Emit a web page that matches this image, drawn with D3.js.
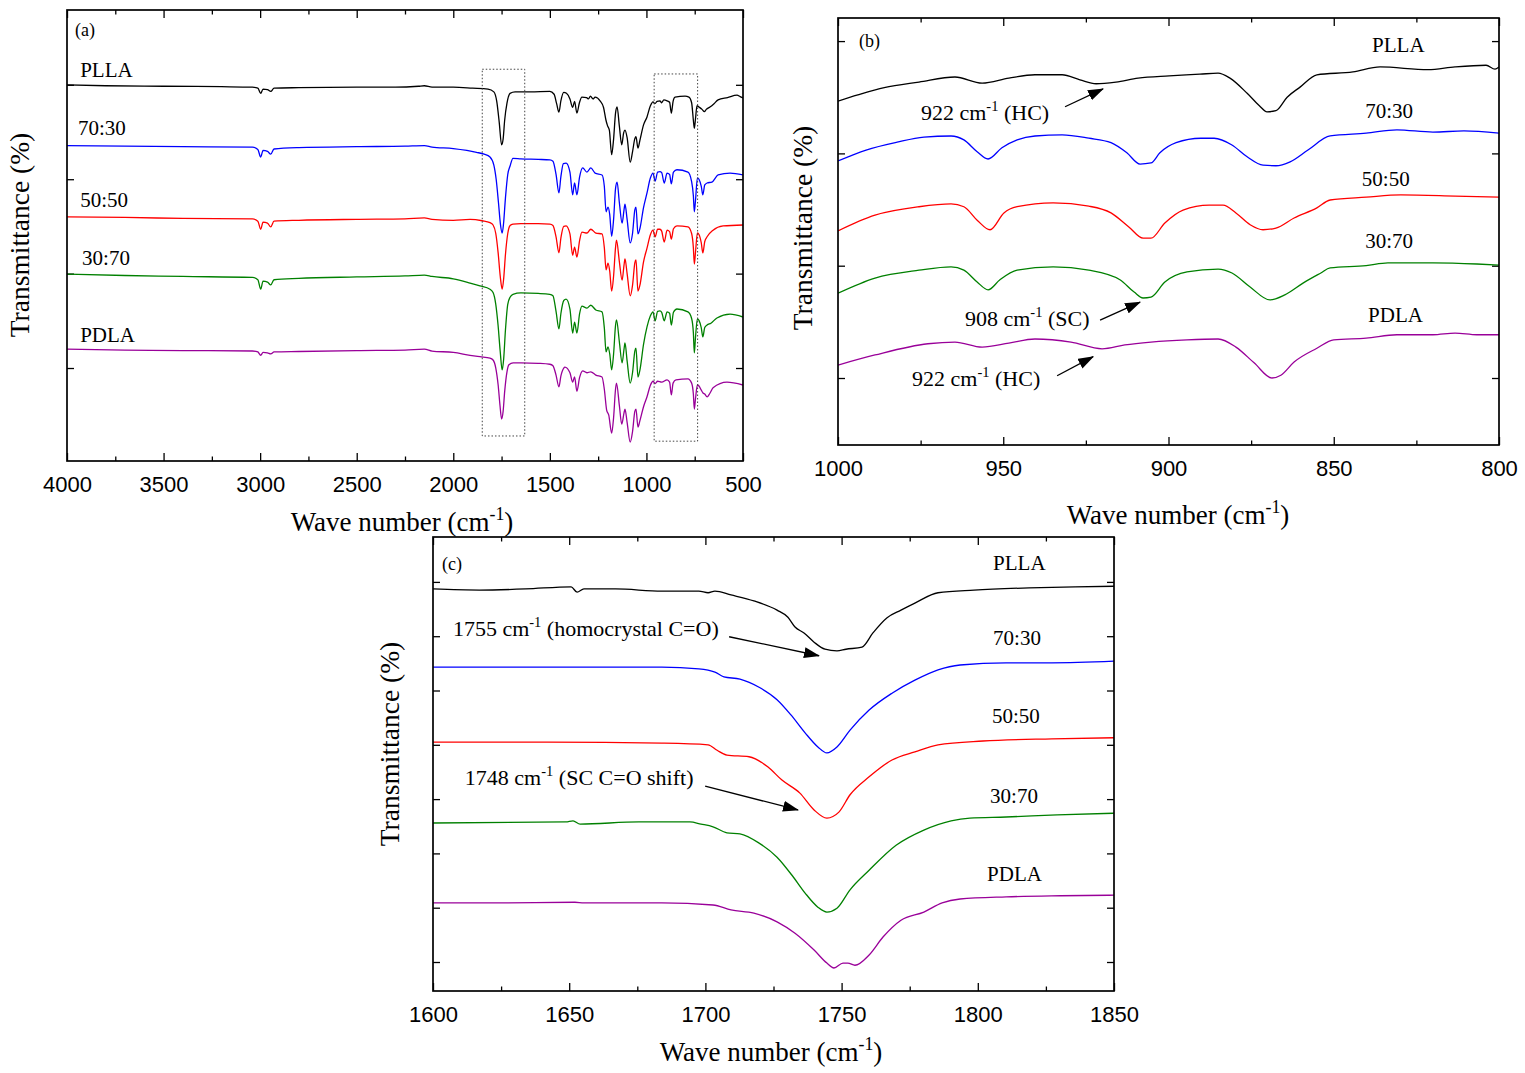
<!DOCTYPE html>
<html lang="en">
<head>
<meta charset="UTF-8">
<title>FTIR spectra</title>
<style>
  body { margin: 0; background: #fff; }
  svg { display: block; }
</style>
</head>
<body>
<svg id="chart"></svg>
<script src="https://d3js.org/d3.v7.min.js"></script>
<script>
// sample names, same order in all three panels
const names = ["PLLA", "70:30", "50:50", "30:70", "PDLA"];

// (a) full spectra, [wave number, transmittance]
const a_PLLA = [[4000,80.0],[3800,79.8],[3500,79.7],[3200,79.6],[3040,79.5],[3012,79.3],[2997,78.2],[2985,79.1],[2962,79.0],[2945,78.6],[2928,79.3],[2800,79.4],[2500,79.5],[2300,79.5],[2180,79.7],[2150,79.8],[2110,79.5],[2000,79.5],[1900,79.3],[1820,79.1],[1790,78.5],[1775,76.5],[1762,72.0],[1750,67.3],[1742,68.5],[1734,72.5],[1722,76.1],[1706,78.2],[1680,78.5],[1600,78.5],[1500,78.6],[1478,78.0],[1465,76.0],[1453,74.2],[1443,76.6],[1428,78.4],[1414,78.2],[1396,77.0],[1382,75.2],[1372,76.5],[1360,74.0],[1347,76.2],[1334,77.4],[1310,77.3],[1300,77.0],[1290,77.6],[1276,77.0],[1266,77.4],[1240,76.6],[1222,75.2],[1210,72.6],[1202,71.4],[1192,70.4],[1180,65.2],[1170,68.5],[1160,74.0],[1152,75.3],[1140,71.2],[1128,67.3],[1118,69.8],[1111,70.4],[1100,68.8],[1084,63.6],[1072,65.8],[1060,68.6],[1054,69.0],[1044,66.6],[1034,68.2],[1015,71.5],[997,73.2],[980,75.5],[966,76.4],[956,76.0],[945,76.5],[930,76.6],[921,76.2],[910,76.8],[893,76.6],[880,76.3],[871,74.0],[862,76.5],[852,77.4],[800,77.6],[780,77.4],[766,76.2],[757,72.5],[752,70.8],[746,72.8],[738,75.6],[728,75.3],[712,74.8],[700,74.3],[690,74.8],[671,75.3],[650,76.0],[629,76.8],[580,77.3],[531,77.8],[515,77.5],[500,77.2]];
const a_7030 = [[4000,67.1],[3700,67.0],[3400,66.9],[3040,66.8],[3012,66.3],[2997,64.7],[2985,66.1],[2962,65.9],[2945,65.3],[2928,66.4],[2800,66.7],[2500,66.9],[2250,67.0],[2150,67.1],[2110,66.8],[2000,66.5],[1930,66.1],[1880,65.7],[1840,65.3],[1810,64.7],[1790,63.0],[1778,60.0],[1766,55.0],[1756,50.5],[1747,48.6],[1740,50.5],[1730,56.0],[1718,61.0],[1706,62.8],[1691,64.4],[1650,64.3],[1560,64.2],[1500,64.1],[1484,63.8],[1468,61.0],[1453,57.1],[1443,60.5],[1430,63.3],[1416,63.4],[1396,61.5],[1382,56.7],[1372,59.2],[1360,56.7],[1346,60.5],[1330,62.4],[1308,61.5],[1288,62.4],[1266,61.3],[1230,60.9],[1218,58.5],[1209,53.1],[1199,54.1],[1190,52.5],[1180,47.9],[1170,51.5],[1160,58.0],[1152,59.4],[1140,55.0],[1126,50.7],[1116,53.5],[1111,54.7],[1100,51.5],[1084,46.5],[1072,48.5],[1060,53.5],[1054,54.1],[1044,48.4],[1034,49.5],[1015,54.0],[997,57.1],[980,60.2],[966,61.3],[955,59.6],[942,61.5],[930,61.6],[921,61.4],[908,59.2],[893,61.3],[880,61.0],[871,59.0],[860,61.5],[842,62.0],[785,61.5],[766,59.5],[757,56.5],[752,53.1],[746,55.5],[736,60.3],[728,60.0],[716,58.5],[708,56.7],[698,58.8],[686,59.2],[661,59.4],[629,60.9],[567,61.3],[500,60.9]];
const a_5050 = [[4000,52.0],[3700,51.9],[3400,51.7],[3040,51.6],[3012,51.1],[2997,49.4],[2985,50.9],[2962,50.7],[2945,49.9],[2928,51.1],[2800,51.3],[2500,51.5],[2250,51.6],[2150,51.8],[2110,51.5],[2000,51.3],[1913,51.5],[1850,51.2],[1810,50.8],[1794,50.3],[1780,48.5],[1768,44.5],[1757,39.5],[1747,36.7],[1739,39.0],[1730,44.0],[1718,48.5],[1706,50.2],[1691,50.5],[1650,50.6],[1560,50.6],[1500,50.5],[1484,50.2],[1468,47.8],[1453,44.4],[1443,47.5],[1428,50.0],[1416,50.1],[1396,48.4],[1382,43.9],[1372,45.6],[1360,43.5],[1346,47.0],[1334,48.8],[1308,48.6],[1288,49.4],[1262,48.6],[1230,48.4],[1218,45.5],[1209,40.8],[1199,42.2],[1190,40.5],[1180,36.3],[1170,39.5],[1160,45.5],[1155,47.1],[1140,42.5],[1126,38.6],[1116,41.8],[1111,43.1],[1100,40.0],[1084,35.3],[1072,37.5],[1060,42.3],[1054,42.9],[1044,36.3],[1034,37.5],[1015,42.5],[997,45.4],[980,48.2],[966,49.2],[955,47.8],[942,49.4],[930,49.4],[921,49.0],[908,46.7],[893,49.2],[880,48.9],[871,47.3],[860,49.5],[842,50.1],[785,49.9],[766,48.5],[757,45.5],[752,42.0],[746,44.5],[736,48.6],[728,48.3],[716,46.5],[708,44.4],[698,46.8],[686,47.8],[655,49.2],[603,50.1],[500,50.3]];
const a_3070 = [[4000,39.9],[3700,39.6],[3400,39.4],[3040,39.2],[3012,38.7],[2997,36.7],[2985,38.4],[2962,38.2],[2945,37.6],[2928,38.7],[2800,39.0],[2500,39.3],[2250,39.5],[2150,39.7],[2110,39.4],[2000,38.9],[1913,38.0],[1862,37.4],[1810,36.7],[1794,36.0],[1780,33.5],[1768,29.0],[1757,23.5],[1747,19.6],[1739,22.0],[1730,28.0],[1718,33.5],[1706,35.0],[1691,35.6],[1650,35.9],[1560,35.8],[1500,35.6],[1484,35.3],[1468,32.0],[1453,28.3],[1443,31.5],[1428,34.3],[1416,34.6],[1396,32.5],[1382,27.4],[1372,29.7],[1360,27.4],[1346,31.5],[1334,33.1],[1308,32.7],[1288,33.3],[1262,32.3],[1230,31.9],[1218,28.5],[1209,23.4],[1199,24.5],[1190,23.0],[1180,19.6],[1170,23.0],[1160,29.0],[1155,30.2],[1140,25.5],[1126,21.1],[1116,24.0],[1111,25.3],[1100,21.5],[1084,16.8],[1072,19.0],[1060,23.6],[1054,24.2],[1044,18.1],[1034,19.5],[1015,25.0],[997,28.7],[980,31.0],[966,31.9],[955,30.0],[942,32.0],[930,32.1],[921,31.8],[908,30.0],[893,31.9],[880,31.6],[871,29.1],[860,31.8],[842,32.5],[785,31.9],[766,30.5],[757,27.5],[752,23.2],[746,26.5],[736,30.4],[728,30.1],[716,28.5],[708,26.6],[698,28.6],[686,29.1],[666,29.5],[635,30.6],[567,31.4],[500,30.8]];
const a_PDLA = [[4000,24.0],[3700,23.8],[3400,23.7],[3040,23.6],[3012,23.4],[2997,22.7],[2985,23.3],[2962,23.2],[2945,23.0],[2928,23.4],[2800,23.5],[2500,23.7],[2250,23.8],[2150,24.0],[2110,23.6],[2000,23.3],[1913,22.7],[1862,22.4],[1810,22.1],[1794,21.7],[1780,20.0],[1768,16.5],[1758,12.0],[1750,9.2],[1742,10.8],[1734,15.0],[1722,19.2],[1712,20.7],[1690,21.1],[1650,21.1],[1560,21.0],[1500,20.8],[1484,20.5],[1468,18.5],[1453,16.0],[1443,18.3],[1428,20.0],[1422,20.2],[1396,19.0],[1382,17.0],[1372,18.1],[1360,15.1],[1346,18.0],[1330,19.4],[1308,19.0],[1288,19.2],[1262,18.5],[1230,18.1],[1218,15.5],[1206,11.1],[1195,10.0],[1180,6.2],[1170,9.5],[1160,15.5],[1155,16.8],[1140,12.0],[1128,8.1],[1116,10.5],[1111,11.3],[1100,8.5],[1084,4.3],[1072,6.5],[1060,10.8],[1054,11.3],[1044,7.5],[1034,8.8],[1015,11.8],[997,13.9],[980,16.3],[966,17.2],[955,16.7],[942,17.2],[921,17.0],[893,17.5],[880,17.0],[871,14.3],[862,16.8],[847,17.5],[785,17.7],[766,16.8],[757,14.5],[752,11.3],[746,13.5],[736,16.4],[728,16.2],[716,15.3],[707,14.7],[698,14.5],[686,13.9],[672,14.6],[655,15.8],[583,17.0],[500,16.4]];

// (b) 1000-800 cm-1
const b_PLLA = [[1000,69.3],[994,70.4],[986,71.7],[975.5,72.7],[964.6,73.6],[956.4,72.5],[948.3,73.4],[940.4,74.0],[932.2,74.0],[926.8,73.1],[921.9,72.4],[915.9,72.7],[909.2,73.4],[899.8,73.8],[890.5,74.1],[885,74.3],[881.4,73.4],[876.2,70.7],[872.5,68.5],[870.2,67.4],[867.5,67.6],[864.1,70.0],[860.2,71.8],[855.1,74.0],[844.2,74.5],[836,75.4],[821.5,74.9],[813.3,75.4],[803.9,75.7],[801.2,75.0],[800,75.4]];
const b_7030 = [[1000,58.65],[991.5,60.6],[982.1,62.0],[974,62.9],[965.8,63.1],[961.9,62.4],[957.9,60.3],[954.6,59.0],[950.4,61.0],[945.8,62.4],[940.4,63.1],[932.2,63.3],[924.1,62.7],[917.4,61.9],[912.6,60.1],[908.6,58.1],[905.3,58.3],[902.6,60.1],[897.7,61.9],[890.2,62.7],[886.2,62.7],[880.8,61.5],[876.2,59.4],[871.4,57.9],[867.5,57.8],[863.2,58.5],[857.8,60.6],[851.1,63.1],[840.2,63.6],[830.9,64.2],[820,63.8],[810.6,64.0],[800,63.6]];
const b_5050 = [[1000,46.2],[988.8,49.0],[975.5,50.5],[965.8,51.0],[961.9,50.5],[957.9,48.1],[954,46.4],[949.8,49.4],[945.8,50.5],[934.9,51.2],[924.1,50.6],[917.4,49.4],[912,46.9],[907.7,44.9],[905.3,44.9],[901.1,47.6],[895.6,49.9],[887.7,50.8],[883.5,50.8],[879.6,49.4],[875.3,47.3],[871.4,46.4],[867.5,46.7],[862,48.5],[855.1,50.3],[851.1,51.7],[840.2,52.2],[829.7,52.6],[813.3,52.4],[800,52.2]];
const b_3070 = [[1000,35.1],[988.8,37.8],[975.5,39.2],[965.8,39.8],[961.9,39.2],[957.9,37.1],[954.6,35.7],[951,37.5],[945.8,39.2],[934.9,39.8],[924.1,39.2],[914.7,37.5],[910.4,35.3],[907.7,34.25],[905.3,34.4],[901.1,37.1],[894.4,38.9],[885,39.4],[880.8,38.7],[875.3,36.2],[869.3,33.9],[864.8,34.8],[859.3,36.9],[853.9,38.7],[851.1,39.6],[840.2,40.0],[833.6,40.5],[820,40.5],[806.7,40.3],[800,40.1]];
const b_PDLA = [[1000,22.3],[988.8,24.1],[972.8,26.1],[964.6,26.4],[956.4,25.5],[948.3,26.2],[940.4,26.95],[929.5,26.4],[920.1,25.2],[913.2,25.9],[905.3,26.4],[894.4,26.8],[885,26.95],[879.6,25.5],[874.1,22.7],[868.7,20.0],[866,20.5],[862,22.85],[855.1,25.3],[850,26.8],[840.2,27.1],[830.9,27.7],[820,27.7],[813.3,28.0],[806.7,27.7],[800,27.7]];

// (c) 1600-1850 cm-1
const c_PLLA = [[1600,78.7],[1617,78.5],[1634,78.7],[1650.7,79.1],[1652.9,78.1],[1655.4,78.7],[1667,78.7],[1684,78.3],[1697.6,78.3],[1701,78.0],[1703.5,78.3],[1709.4,77.6],[1717.8,76.5],[1726.3,74.8],[1730.3,73.5],[1732.9,71.7],[1736.2,70.6],[1739.9,68.9],[1743.9,67.6],[1748.3,67.3],[1751.6,67.6],[1757.5,68.0],[1761.5,70.6],[1766.7,73.4],[1771.8,74.8],[1776.9,76.1],[1785.4,78.0],[1798.6,78.5],[1818.8,78.9],[1835.7,79.1],[1850,79.2]];
const c_7030 = [[1600,64.3],[1642,64.3],[1684,64.3],[1697.6,64.0],[1703.5,63.4],[1706.8,62.5],[1712.7,62.1],[1719.7,60.6],[1726.3,58.3],[1731.4,55.5],[1736.6,52.2],[1741.3,49.6],[1744.6,48.5],[1748.3,49.6],[1753.1,52.7],[1760.1,56.4],[1768.5,59.5],[1776.9,61.9],[1785.4,63.8],[1793.5,64.7],[1810.4,65.1],[1827.2,65.1],[1850,65.4]];
const c_5050 = [[1600,50.5],[1642,50.5],[1684,50.3],[1701,50.0],[1704.3,49.0],[1707.9,48.1],[1716,47.8],[1723,45.9],[1728.1,43.5],[1734.7,41.1],[1739.9,38.0],[1744.6,36.5],[1749,37.6],[1753.1,40.8],[1760.1,44.1],[1768.5,47.2],[1776.9,48.7],[1785.4,50.0],[1801.9,50.7],[1827.2,51.1],[1850,51.3]];
const c_3070 = [[1600,35.6],[1648.8,35.8],[1651.4,36.0],[1654,35.4],[1675.6,35.8],[1694.3,35.8],[1698.4,35.4],[1702.8,34.9],[1707.9,33.8],[1712.7,33.6],[1719.7,31.9],[1726.3,29.3],[1732.2,25.7],[1736.6,22.7],[1741.3,20.1],[1744.6,19.2],[1748.3,19.9],[1753.1,23.3],[1760.1,26.9],[1770,31.5],[1780.2,34.3],[1790.2,36.0],[1797.1,36.5],[1810.4,36.7],[1829.1,37.1],[1850,37.4]];
const c_PDLA = [[1600,20.9],[1625.3,20.9],[1652.1,21.0],[1655.4,20.9],[1684,20.9],[1702.8,20.5],[1709.4,19.6],[1717.8,19.0],[1726.3,17.4],[1732.9,15.3],[1739.9,12.2],[1744.6,9.8],[1747.2,8.9],[1750.5,9.8],[1752.3,9.8],[1754.9,9.4],[1760.1,11.3],[1765.2,14.6],[1771.8,17.7],[1780.2,19.2],[1786.9,20.9],[1793.5,21.6],[1810.4,22.0],[1830.5,22.2],[1850,22.3]];

// axis ticks
const ticksA = [4000, 3500, 3000, 2500, 2000, 1500, 1000, 500];
const ticksB = [1000, 950, 900, 850, 800];
const ticksC = [1600, 1650, 1700, 1750, 1800, 1850];

// regions of (a) shown in (b) and (c): [high wn, low wn, bottom, top]
const zoomBoxes = [[1850, 1630, 5.6, 83.3], [960, 735, 4.5, 82.3]];

const W = 1525, H = 1073;
const colors = ["#000000", "#0000ff", "#ff0000", "#008000", "#990099"];
const serif = '"Liberation Serif", "Times New Roman", serif';
const sans = '"Liberation Sans", Arial, sans-serif';

const svg = d3.select("#chart").attr("width", W).attr("height", H)
    .style("background", "#fff");

const defs = svg.append("defs");
defs.append("marker")
    .attr("id", "arrow")
    .attr("viewBox", "0 0 16 11")
    .attr("refX", 15).attr("refY", 5.5)
    .attr("markerWidth", 16).attr("markerHeight", 11)
    .attr("markerUnits", "userSpaceOnUse")
    .attr("orient", "auto")
  .append("path")
    .attr("d", "M0,0L16,5.5L0,11z")
    .attr("fill", "#000");

// "xxx cm-1 ..." with a raised -1
function cmText(sel, before, after, size) {
  sel.append("tspan").text(before + "cm");
  sel.append("tspan").attr("dy", -size * 0.42).attr("font-size", size * 0.66).text("-1");
  sel.append("tspan").attr("dy", size * 0.42).text(after);
}

function panel(p) {
  const x = d3.scaleLinear().domain(p.xDomain).range([p.left, p.right]);
  const y = d3.scaleLinear().domain(p.yDomain).range([p.bottom, p.top]);
  const g = svg.append("g");
  const minor = d3.pairs(p.ticks, (a, b) => (a + b) / 2);

  const clipId = "clip-" + p.id;
  defs.append("clipPath").attr("id", clipId)
    .append("rect")
      .attr("x", p.left).attr("y", p.top)
      .attr("width", p.right - p.left).attr("height", p.bottom - p.top);

  // ticks point inwards on all four sides
  const axes = [
    [d3.axisBottom(x).tickValues(p.ticks).tickSize(-8).tickPadding(15).tickFormat(d3.format("d")), p.bottom, true],
    [d3.axisBottom(x).tickValues(minor).tickSize(-4.5).tickFormat(""), p.bottom, true],
    [d3.axisTop(x).tickValues(p.ticks).tickSize(-8).tickFormat(""), p.top, true],
    [d3.axisTop(x).tickValues(minor).tickSize(-4.5).tickFormat(""), p.top, true],
    [d3.axisLeft(y).tickValues(p.yTicks).tickSize(-7).tickFormat(""), p.left, false],
    [d3.axisRight(y).tickValues(p.yTicks).tickSize(-7).tickFormat(""), p.right, false]
  ];
  axes.forEach(([ax, pos, horiz]) => {
    const a = g.append("g")
        .attr("transform", horiz ? `translate(0,${pos})` : `translate(${pos},0)`)
        .call(ax);
    a.select(".domain").remove();
    a.selectAll("line").attr("stroke", "#000").attr("stroke-width", 1.3);
    a.selectAll("text").attr("font-family", sans).attr("font-size", 22).attr("fill", "#000");
  });

  // spectra
  const line = d3.line()
      .x(d => x(d[0]))
      .y(d => y(d[1]))
      .curve(d3.curveMonotoneX);
  g.append("g").attr("clip-path", `url(#${clipId})`)
    .selectAll("path")
    .data(p.series)
    .join("path")
      .attr("d", line)
      .attr("fill", "none")
      .attr("stroke", (d, i) => colors[i])
      .attr("stroke-width", 1.3)
      .attr("stroke-linejoin", "round");

  // dotted boxes
  if (p.boxes) {
    g.selectAll("rect.zoombox")
      .data(p.boxes)
      .join("rect")
        .attr("class", "zoombox")
        .attr("x", d => x(d[0]))
        .attr("y", d => y(d[3]))
        .attr("width", d => x(d[1]) - x(d[0]))
        .attr("height", d => y(d[2]) - y(d[3]))
        .attr("fill", "none")
        .attr("stroke", "#444")
        .attr("stroke-width", 1)
        .attr("stroke-dasharray", "1.5,2");
  }

  // frame
  g.append("rect")
      .attr("x", p.left).attr("y", p.top)
      .attr("width", p.right - p.left).attr("height", p.bottom - p.top)
      .attr("fill", "none")
      .attr("stroke", "#000")
      .attr("stroke-width", 1.7);

  // sample labels
  g.selectAll("text.name")
    .data(p.labelAt)
    .join("text")
      .attr("class", "name")
      .attr("x", d => x(d[0]))
      .attr("y", d => y(d[1]))
      .attr("font-family", serif)
      .attr("font-size", 21)
      .text((d, i) => names[i]);

  // panel letter
  g.append("text")
      .attr("x", p.left + p.letterAt[0])
      .attr("y", p.top + p.letterAt[1])
      .attr("font-family", serif)
      .attr("font-size", 18)
      .text(p.letter);

  // annotations with arrows
  (p.notes || []).forEach(n => {
    const t = g.append("text")
        .attr("x", x(n.at[0])).attr("y", y(n.at[1]))
        .attr("font-family", serif)
        .attr("font-size", 22)
        .style("white-space", "pre");
    cmText(t, n.num + " ", " " + n.tag, 22);
    g.append("line")
        .attr("x1", x(n.from[0])).attr("y1", y(n.from[1]))
        .attr("x2", x(n.to[0])).attr("y2", y(n.to[1]))
        .attr("stroke", "#000")
        .attr("stroke-width", 1.3)
        .attr("marker-end", "url(#arrow)");
  });

  // axis titles
  const xt = g.append("text")
      .attr("x", p.xTitle[0]).attr("y", p.xTitle[1])
      .attr("text-anchor", "middle")
      .attr("font-family", serif)
      .attr("font-size", 27);
  cmText(xt, "Wave number (", ")", 27);

  g.append("text")
      .attr("transform", `translate(${p.yTitle[0]},${p.yTitle[1]}) rotate(-90)`)
      .attr("text-anchor", "middle")
      .attr("font-family", serif)
      .attr("font-size", 27.5)
      .text("Transmittance (%)");
}

panel({
  id: "a", letter: "(a)", letterAt: [8, 26],
  left: 67, right: 743, top: 10, bottom: 461,
  xDomain: [4000, 500], yDomain: [0.3, 95.85],
  ticks: ticksA, yTicks: [20, 40, 60, 80],
  series: [a_PLLA, a_7030, a_5050, a_3070, a_PDLA],
  labelAt: [[3932, 81.6], [3943, 69.4], [3932, 54.1], [3922, 41.9], [3932, 25.5]],
  boxes: zoomBoxes,
  xTitle: [402, 531], yTitle: [29, 235]
});

panel({
  id: "b", letter: "(b)", letterAt: [21, 29],
  left: 838, right: 1499, top: 18, bottom: 445,
  xDomain: [1000, 800], yDomain: [8.07, 84.11],
  ticks: ticksB, yTicks: [20, 40, 60, 80],
  series: [b_PLLA, b_7030, b_5050, b_3070, b_PDLA],
  labelAt: [[838.4, 78.1], [840.5, 66.3], [841.5, 54.2], [840.5, 43.1], [839.6, 30.0]],
  notes: [
    { num: "922", tag: "(HC)", at: [974.9, 65.9], from: [931.3, 68.3], to: [919.8, 71.5] },
    { num: "908", tag: "(SC)", at: [961.6, 29.3], from: [920.7, 30.3], to: [908.6, 33.5] },
    { num: "922", tag: "(HC)", at: [977.6, 18.6], from: [933.7, 20.4], to: [922.8, 23.8] }
  ],
  xTitle: [1178, 524], yTitle: [812, 228]
});

panel({
  id: "c", letter: "(c)", letterAt: [9, 33],
  left: 433, right: 1114, top: 537, bottom: 991,
  xDomain: [1600, 1850], yDomain: [4.66, 88.27],
  ticks: ticksC, yTicks: [10, 20, 30, 40, 50, 60, 70, 80],
  series: [c_PLLA, c_7030, c_5050, c_3070, c_PDLA],
  labelAt: [[1805.6, 82.2], [1805.6, 68.4], [1805.2, 54.0], [1804.5, 39.3], [1803.4, 24.9]],
  notes: [
    { num: "1755", tag: "(homocrystal C=O)", at: [1607.3, 70.0], from: [1708.7, 69.9], to: [1741.7, 66.4] },
    { num: "1748", tag: "(SC C=O shift)", at: [1611.7, 42.6], from: [1699.9, 42.4], to: [1734, 38.0] }
  ],
  xTitle: [771, 1061], yTitle: [399, 744]
});
</script>
</body>
</html>
